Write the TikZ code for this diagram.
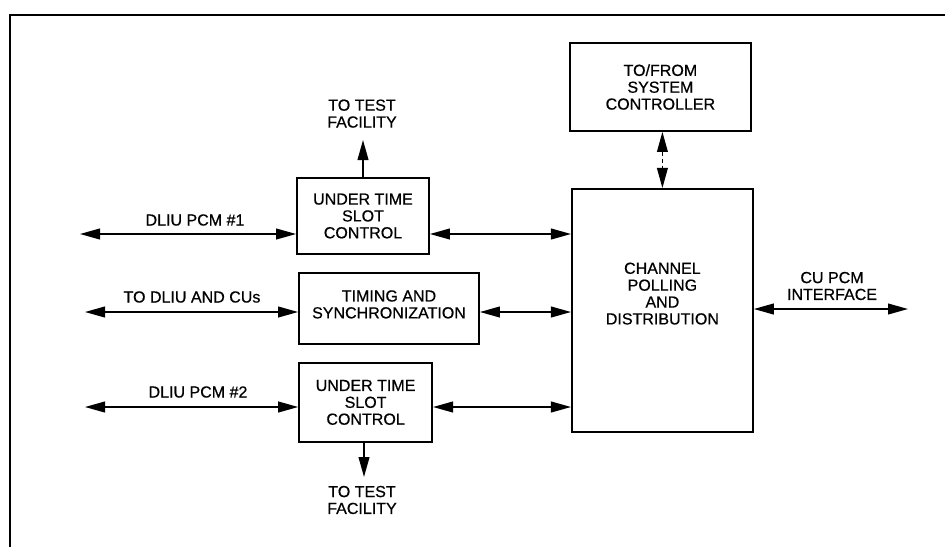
\documentclass[tikz,border=0pt]{standalone}
\usepackage{fontspec}
\setmainfont[FakeBold=0.6]{Liberation Sans}
\usetikzlibrary{arrows.meta, positioning, calc}

\begin{document}
\begin{tikzpicture}[
    block/.style={rectangle, draw, line width=1.3pt, align=center, inner sep=2pt, font=\fontsize{11.4}{12}\selectfont},
    lbl/.style={align=center, inner sep=1pt, font=\fontsize{11.4}{12}\selectfont},
    link/.style={line width=1.1pt, {Triangle[length=5mm,width=2.7mm]}-{Triangle[length=5mm,width=2.7mm]}},
    outarrow/.style={line width=1.1pt, -{Triangle[length=5mm,width=2.7mm]}}
]
\useasboundingbox (0,0) rectangle (23.625,-13.675);

% Frame
\draw[line width=1.4pt] (0.25,-13.675) -- (0.25,-0.375) -- (23.625,-0.375);

% Blocks
\node[block, minimum width=4.525cm, minimum height=2.2cm] (sc) at (16.51,-2.175) {TO/FROM\\SYSTEM\\CONTROLLER};
\node[block, minimum width=4.525cm, minimum height=6.075cm,
      label={[lbl, yshift=0.42cm]center:CHANNEL\\POLLING\\AND\\DISTRIBUTION}] (cpd) at (16.56,-7.76) {};
\node[block, minimum width=3.3cm, minimum height=1.9cm] (ut1) at (9.075,-5.4) {UNDER TIME\\SLOT\\CONTROL};
\node[block, minimum width=4.5cm, minimum height=1.775cm,
      label={[lbl, yshift=0.1cm]center:TIMING AND\\SYNCHRONIZATION}] (tim) at (9.725,-7.71) {};
\node[block, minimum width=3.325cm, minimum height=1.975cm] (ut2) at (9.14,-10.06) {UNDER TIME\\SLOT\\CONTROL};

% Free ends
\coordinate (p1) at (2.0,-5.85);
\coordinate (p2) at (2.125,-7.8);
\coordinate (p3) at (2.125,-10.175);
\coordinate (up1) at (9.075,-3.5);
\coordinate (dn2) at (9.1,-11.925);
\coordinate (cu) at (22.7,-7.725);

% Labels
\node[lbl] (l1) at (4.875,-5.5) {DLIU PCM \#1};
\node[lbl] (l2) at (4.8,-7.425) {TO DLIU AND CUs};
\node[lbl] (l3) at (4.95,-9.8) {DLIU PCM \#2};
\node[lbl] (tf1) at (9.05,-2.84) {TO TEST\\FACILITY};
\node[lbl] (tf2) at (9.05,-12.5) {TO TEST\\FACILITY};
\node[lbl] (cul) at (20.8,-7.15) {CU PCM\\INTERFACE};

% Connections
\draw[link] (p1) -- (p1 -| ut1.west);
\draw[link] (ut1.east |- p1) -- (cpd.west |- p1);
\draw[link] (p2) -- (p2 -| tim.west);
\draw[link] (tim.east |- p2) -- (cpd.west |- p2);
\draw[link] (p3) -- (p3 -| ut2.west);
\draw[link] (ut2.east |- p3) -- (cpd.west |- p3);
\draw[link] (cpd.east |- cu) -- (cu);
\draw[outarrow] (ut1.north) -- (ut1.north |- up1);
\draw[outarrow] (ut2.south -| dn2) -- (dn2);
\draw[link, densely dashed, line width=0.8pt] (sc.south -| cpd.north) -- (cpd.north);
\end{tikzpicture}
\end{document}
